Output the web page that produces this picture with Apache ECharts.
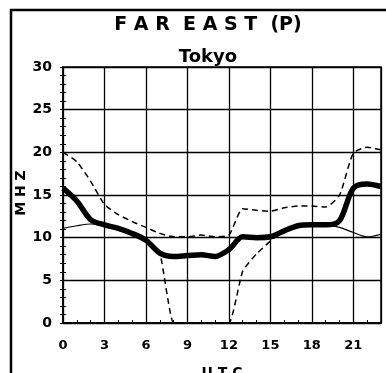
<!DOCTYPE html>
<html><head><meta charset="utf-8">
<script src="https://cdn.jsdelivr.net/npm/echarts@6/dist/echarts.min.js"></script>
<style>html,body{margin:0;padding:0;background:#fff}#c{width:386px;height:373px}</style>
</head><body><div id="c"></div>
<script>
var hours = [0,1,2,3,4,5,6,7,8,9,10,11,12,13,14,15,16,17,18,19,20,21,22,23];
var median = [15.8,14.3,12.1,11.5,11.1,10.5,9.7,8.2,7.8,7.9,8.0,7.8,8.6,10.1,10.0,10.1,10.8,11.4,11.5,11.5,12.0,15.8,16.3,16.0];
var upper  = [20.0,18.9,16.6,13.9,12.7,11.9,11.2,10.5,10.1,10.1,10.3,10.1,10.3,13.4,13.2,13.1,13.5,13.7,13.7,13.6,15.0,19.9,20.6,20.3];
var lower  = [11.1,11.4,11.6,11.5,11.1,10.5,9.7,8.2,0,0,0,0,0,6.1,8.1,9.6,10.8,11.4,11.5,11.5,11.2,10.6,10.1,10.4];
var xTicks = [0,3,6,9,12,15,18,21];
var yTicks = [0,5,10,15,20,25,30];

function pairs(arr, from, to){
  return hours.map(function(h,i){ return (i>=from && i<=to) ? [h, arr[i]] : [h, null]; });
}
var F = '"DejaVu Sans"';
var chart = echarts.init(document.getElementById('c'));
chart.setOption({
  animation:false,
  backgroundColor:'#fff',
  grid:{left:63, top:67, right:5, bottom:50, show:true, borderColor:'#000', borderWidth:1.5},
  graphic:[
    {type:'rect', shape:{x:11,y:10,width:400,height:400}, style:{fill:'none', stroke:'#000', lineWidth:2.5}},
    {type:'text', position:[208,25], style:{text:'F A R  E A S T  (P)', font:'bold 19px '+F, fill:'#000', textAlign:'center', textVerticalAlign:'middle'}},
    {type:'text', position:[208,57], style:{text:'Tokyo', font:'bold 18px '+F, fill:'#000', textAlign:'center', textVerticalAlign:'middle'}},
    {type:'text', position:[21,193], rotation:Math.PI/2, style:{text:'M H Z', font:'bold 14px '+F, fill:'#000', textAlign:'center', textVerticalAlign:'middle'}},
    {type:'text', position:[222,373], style:{text:'U T C', font:'bold 14px '+F, fill:'#000', textAlign:'center', textVerticalAlign:'middle'}}
  ],
  xAxis:{type:'value', min:0, max:23, interval:3,
    axisLine:{lineStyle:{color:'#000', width:1.5}},
    axisTick:{show:true, inside:true, length:4, lineStyle:{color:'#000'}},
    minorTick:{show:true, splitNumber:3, length:3, lineStyle:{color:'#000'}},
    splitLine:{show:true, lineStyle:{color:'#000', width:1.3}},
    axisLabel:{showMaxLabel:false, margin:16, color:'#000', fontFamily:'DejaVu Sans', fontWeight:'bold', fontSize:13,
      formatter:function(v){ return xTicks.indexOf(v)>=0 ? String(v) : ''; }}
  },
  yAxis:[{type:'value', min:0, max:30, interval:5,
    axisLine:{show:true, lineStyle:{color:'#000', width:1.5}},
    axisTick:{show:true, inside:false, length:3, lineStyle:{color:'#000'}},
    minorTick:{show:true, splitNumber:5, length:3, lineStyle:{color:'#000'}},
    splitLine:{show:true, lineStyle:{color:'#000', width:1.3}},
    axisLabel:{margin:11, color:'#000', fontFamily:'DejaVu Sans', fontWeight:'bold', fontSize:14,
      formatter:function(v){ return yTicks.indexOf(v)>=0 ? String(v) : ''; }}
  },{type:'value', min:0, max:30, interval:5, position:'left',
    axisLine:{show:false}, splitLine:{show:false}, axisLabel:{show:false},
    axisTick:{show:true, inside:true, length:3, lineStyle:{color:'#000'}},
    minorTick:{show:true, splitNumber:5, length:3, lineStyle:{color:'#000'}}
  }],
  series:[
    {type:'line', data:pairs(lower,0,3), symbol:'none', smooth:0.3, lineStyle:{color:'#000', width:1.2}},
    {type:'line', data:pairs(lower,17,23), symbol:'none', smooth:0.3, lineStyle:{color:'#000', width:1.2}},
    {type:'line', data:pairs(lower,5,17), symbol:'none', smooth:0.15, lineStyle:{color:'#000', width:1.5, type:[6,4]}},
    {type:'line', data:pairs(upper,0,23), symbol:'none', smooth:0.2, lineStyle:{color:'#000', width:1.5, type:[6,4]}},
    {type:'line', data:pairs(median,0,23), symbol:'none', smooth:0.3, lineStyle:{color:'#000', width:5.5}}
  ]
});
</script></body></html>
